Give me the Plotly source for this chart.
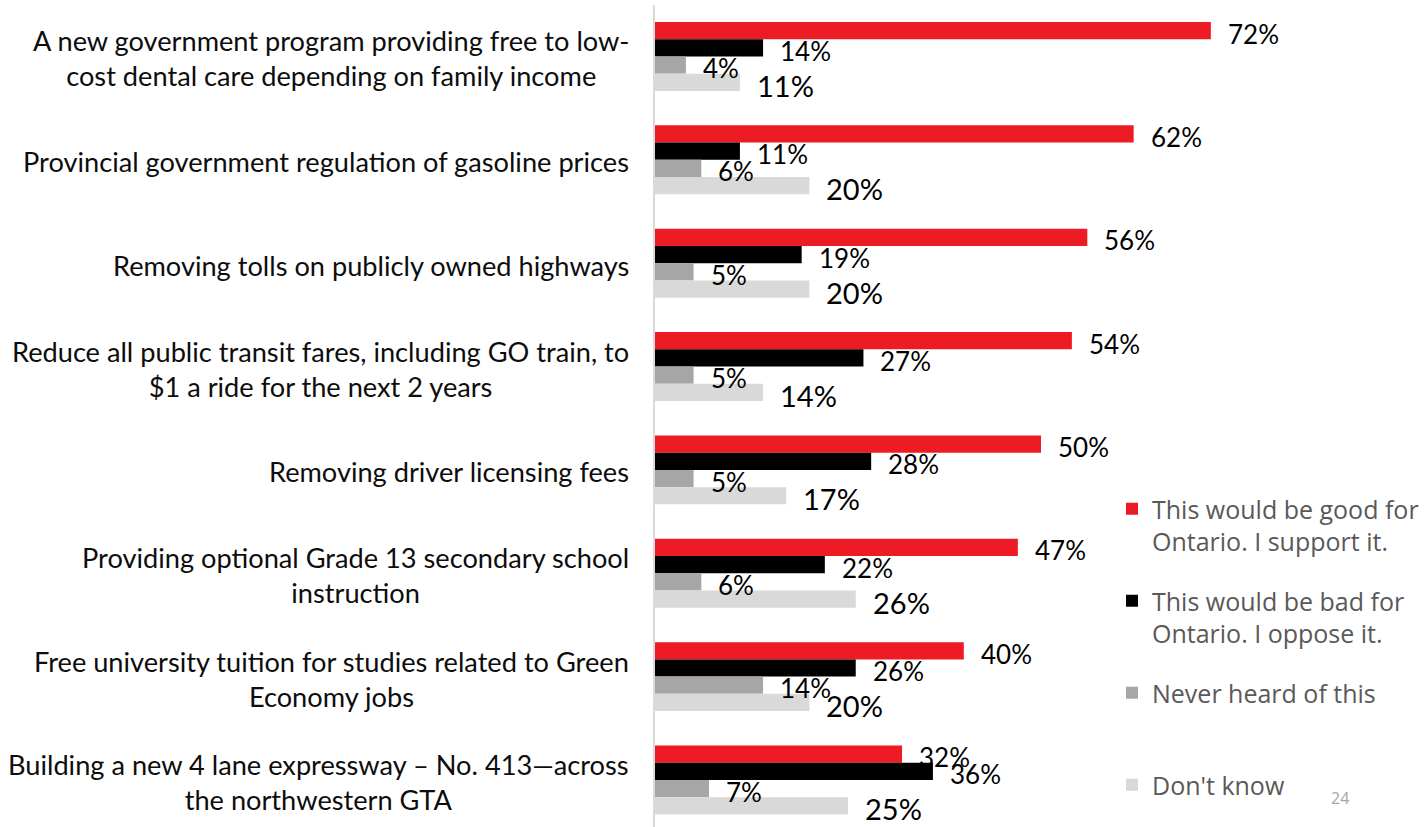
import plotly.graph_objects as go

categories = [
    "A new government program providing free to low-<br>cost dental care depending on family income",
    "Provincial government regulation of gasoline prices",
    "Removing tolls on publicly owned highways",
    "Reduce all public transit fares, including GO train, to<br>$1 a ride for the next 2 years",
    "Removing driver licensing fees",
    "Providing optional Grade 13 secondary school<br>instruction",
    "Free university tuition for studies related to Green<br>Economy jobs",
    "Building a new 4 lane expressway \u2013 No. 413\u2014across<br>the northwestern GTA",
]
support = [72, 62, 56, 54, 50, 47, 40, 32]
oppose = [14, 11, 19, 27, 28, 22, 26, 36]
never_heard = [4, 6, 5, 5, 5, 6, 14, 7]
dont_know = [11, 20, 20, 14, 17, 26, 20, 25]

series_names = [
    "This would be good for<br>Ontario. I support it.",
    "This would be bad for<br>Ontario. I oppose it.",
    "Never heard of this<br>\u00a0",
    "Don't know",
]
series_values = [support, oppose, never_heard, dont_know]
series_colors = ["#ED1C24", "#000000", "#A6A6A6", "#D9D9D9"]
label_sizes = [26, 26, 26, 29]

W, H = 1426, 827
ML, MR, MT, MB = 655, 26, 5, 0
plot_h = H - MT - MB
pw = W - ML - MR
bargap = 0.333

fig = go.Figure()
for i, (name, vals, col) in enumerate(zip(series_names, series_values, series_colors)):
    fig.add_trace(go.Bar(
        y=categories, x=vals, orientation="h", name=name,
        marker=dict(color=col, line=dict(width=0)),
        legendgroup=f"g{i}", hoverinfo="x+name",
    ))

y_range = [7.455, -0.498]
unit_px = plot_h / (y_range[0] - y_range[1])
bar_px = unit_px * (1 - bargap) / 4

annotations = []
for i, vals in enumerate(series_values):
    off = (i - 1.5) * bar_px
    for c, v in zip(categories, vals):
        annotations.append(dict(
            x=v, y=c, xref="x", yref="y", text=f"{v}%", showarrow=False,
            xanchor="left", yanchor="middle", xshift=15, yshift=-off - 3,
            font=dict(family="Lato", size=label_sizes[i], color="#000000"),
        ))
for c in categories:
    annotations.append(dict(
        x=0, y=c, xref="x", yref="y", text=c, showarrow=False,
        xanchor="right", yanchor="middle", xshift=-24, yshift=-2, align="center",
        font=dict(family="Lato", size=27.2, color="#0d0d0d"),
    ))
annotations.append(dict(
    x=(1340 - ML) / pw, y=(H - MB - 798) / plot_h, xref="paper", yref="paper",
    text="24", showarrow=False, xanchor="center", yanchor="middle",
    font=dict(family="Open Sans", size=16, color="#a6a6a6"),
))

fig.update_layout(
    width=W, height=H,
    margin=dict(l=ML, r=MR, t=MT, b=MB, pad=0, autoexpand=False),
    paper_bgcolor="white", plot_bgcolor="white",
    barmode="group", bargap=bargap, bargroupgap=0,
    xaxis=dict(visible=False, range=[0, 96.5]),
    yaxis=dict(type="category", categoryorder="array", categoryarray=categories,
               range=y_range, showticklabels=False, showgrid=False, zeroline=False,
               showline=True, linecolor="#d9d9d9", linewidth=2, ticks=""),
    showlegend=True,
    legend=dict(
        x=(1112 - ML) / pw, y=(H - MB - 486) / plot_h, xanchor="left", yanchor="top",
        font=dict(family="Open Sans", size=25, color="#595959"),
        traceorder="grouped", valign="top", tracegroupgap=24,
        bgcolor="rgba(0,0,0,0)", itemclick=False, itemdoubleclick=False,
    ),
    annotations=annotations,
)

fig.write_html("out.html", config={"displayModeBar": False},
               post_script="document.body.style.margin='0px';")
